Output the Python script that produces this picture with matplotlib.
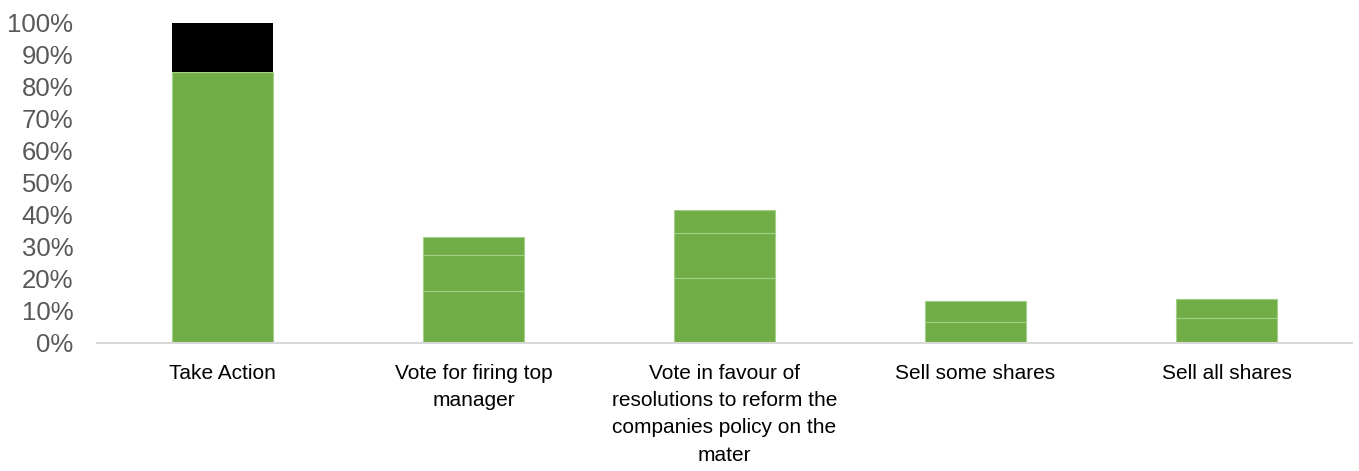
import numpy as np
import matplotlib.pyplot as plt
from matplotlib.ticker import PercentFormatter

categories = ["Take Action", "Vote for firing top\nmanager",
              "Vote in favour of\nresolutions to reform the\ncompanies policy on the\nmater",
              "Sell some shares", "Sell all shares"]

# stacked green segments (bottom to top) and the black remainder
seg1 = [0.848, 0.163, 0.202, 0.065, 0.077]
seg2 = [0.0, 0.112, 0.141, 0.066, 0.060]
seg3 = [0.0, 0.057, 0.073, 0.0, 0.0]
other = [0.152, 0.0, 0.0, 0.0, 0.0]

green = "#70ad47"
edge = "#a3cf86"

fig = plt.figure(figsize=(13.59, 4.71), dpi=100)
ax = fig.add_axes([0.0714, 0.2718, 0.9235, 0.6794])

x = np.arange(len(categories))
w = 0.4
bottom = np.zeros(len(categories))
for seg in (seg1, seg2, seg3):
    seg = np.array(seg)
    ax.bar(x, seg, w, bottom=bottom, color=green, edgecolor=edge, linewidth=0.8)
    bottom += seg
ax.bar(x, other, w, bottom=bottom, color="black", linewidth=0)

ax.set_ylim(0, 1)
ax.set_xlim(-0.5, len(categories) - 0.5)
ax.set_yticks(np.arange(0, 1.01, 0.1))
ax.yaxis.set_major_formatter(PercentFormatter(1.0, decimals=0))
ax.tick_params(axis="y", length=0, pad=17, labelsize=18.5, labelcolor="#595959")
ax.tick_params(axis="x", length=0, pad=15)
for lab in ax.get_yticklabels():
    lab.set_family(["Liberation Sans", "DejaVu Sans"])

ax.set_xticks(x)
ax.set_xticklabels(categories, fontsize=15, color="black", linespacing=1.55,
                   family=["Liberation Sans", "DejaVu Sans"])

for s in ("top", "right", "left"):
    ax.spines[s].set_visible(False)
ax.spines["bottom"].set_color("#d9d9d9")
ax.spines["bottom"].set_linewidth(1.5)

fig.savefig("out.png", dpi=100)
